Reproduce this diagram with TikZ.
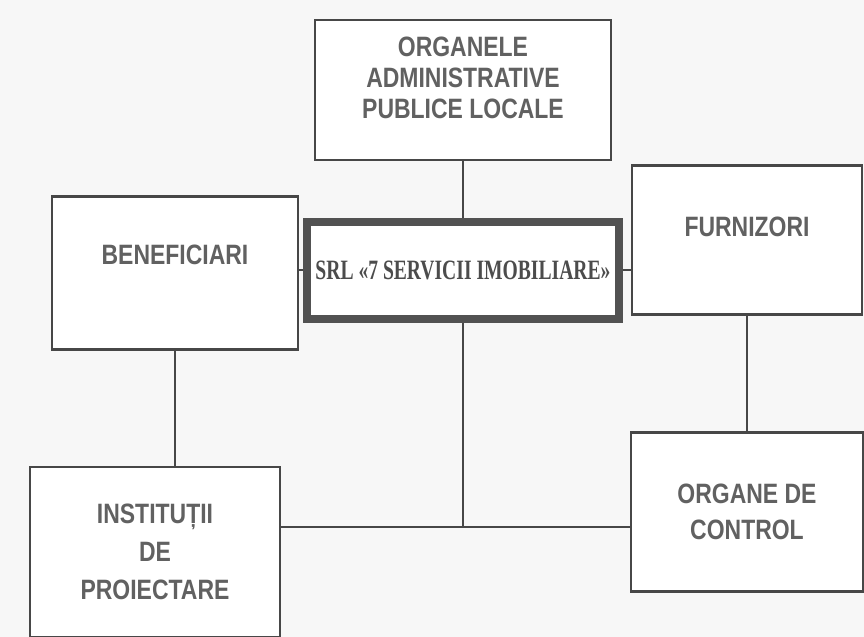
\documentclass[tikz,border=0pt]{standalone}
\usepackage{fontspec}
\setmainfont{Liberation Sans}[FakeStretch=0.82]
\newfontfamily\srlfont{Liberation Serif}[FakeStretch=0.7]
\usetikzlibrary{positioning}
\tikzset{
  box/.style={draw=black!72,line width=1.2pt,fill=white,inner sep=0pt,align=center,
    text=black!62,font=\bfseries\fontsize{14}{18}\selectfont},
  srl/.style={box,draw=black!68,line width=4pt,text=black!70,
    font=\srlfont\bfseries\fontsize{14}{16}\selectfont}
}
\begin{document}
\begin{tikzpicture}[x=0.5pt,y=-0.5pt]
\fill[black!3] (0,0) rectangle (864,637);
\useasboundingbox (0,0) rectangle (864,637);
\node[box,minimum width=148pt,minimum height=70pt,text depth=12pt,
  font=\bfseries\fontsize{14}{15.5}\selectfont] (O) at (463,90)
  {ORGANELE\\ADMINISTRATIVE\\PUBLICE LOCALE};
\node[srl,minimum width=156pt,minimum height=48.5pt] (S) at (463,270)
  {SRL «7 SERVICII IMOBILIARE»};
\node[box,minimum width=123pt,minimum height=76.5pt,text depth=18pt] (B) at (175,273) {BENEFICIARI};
\node[box,minimum width=115pt,minimum height=74.5pt,text depth=13pt] (F) at (747,240) {FURNIZORI};
\node[box,minimum width=125pt,minimum height=85pt,
  font=\bfseries\fontsize{14}{19}\selectfont] (I) at (155,552) {INSTITUȚII\\DE\\PROIECTARE};
\node[box,minimum width=116pt,minimum height=79.5pt] (C) at (747,512) {ORGANE DE\\CONTROL};
\coordinate (bus) at (463,527);
\path[draw=black!72,line width=1.2pt]
(O) edge (S)
(S) edge (S -| B.east)
(S) edge (S -| F.west)
(B) edge (B |- I.north)
(F) edge (C)
(S) edge (bus)
(I.east |- bus) edge (C.west |- bus);
\end{tikzpicture}
\end{document}
